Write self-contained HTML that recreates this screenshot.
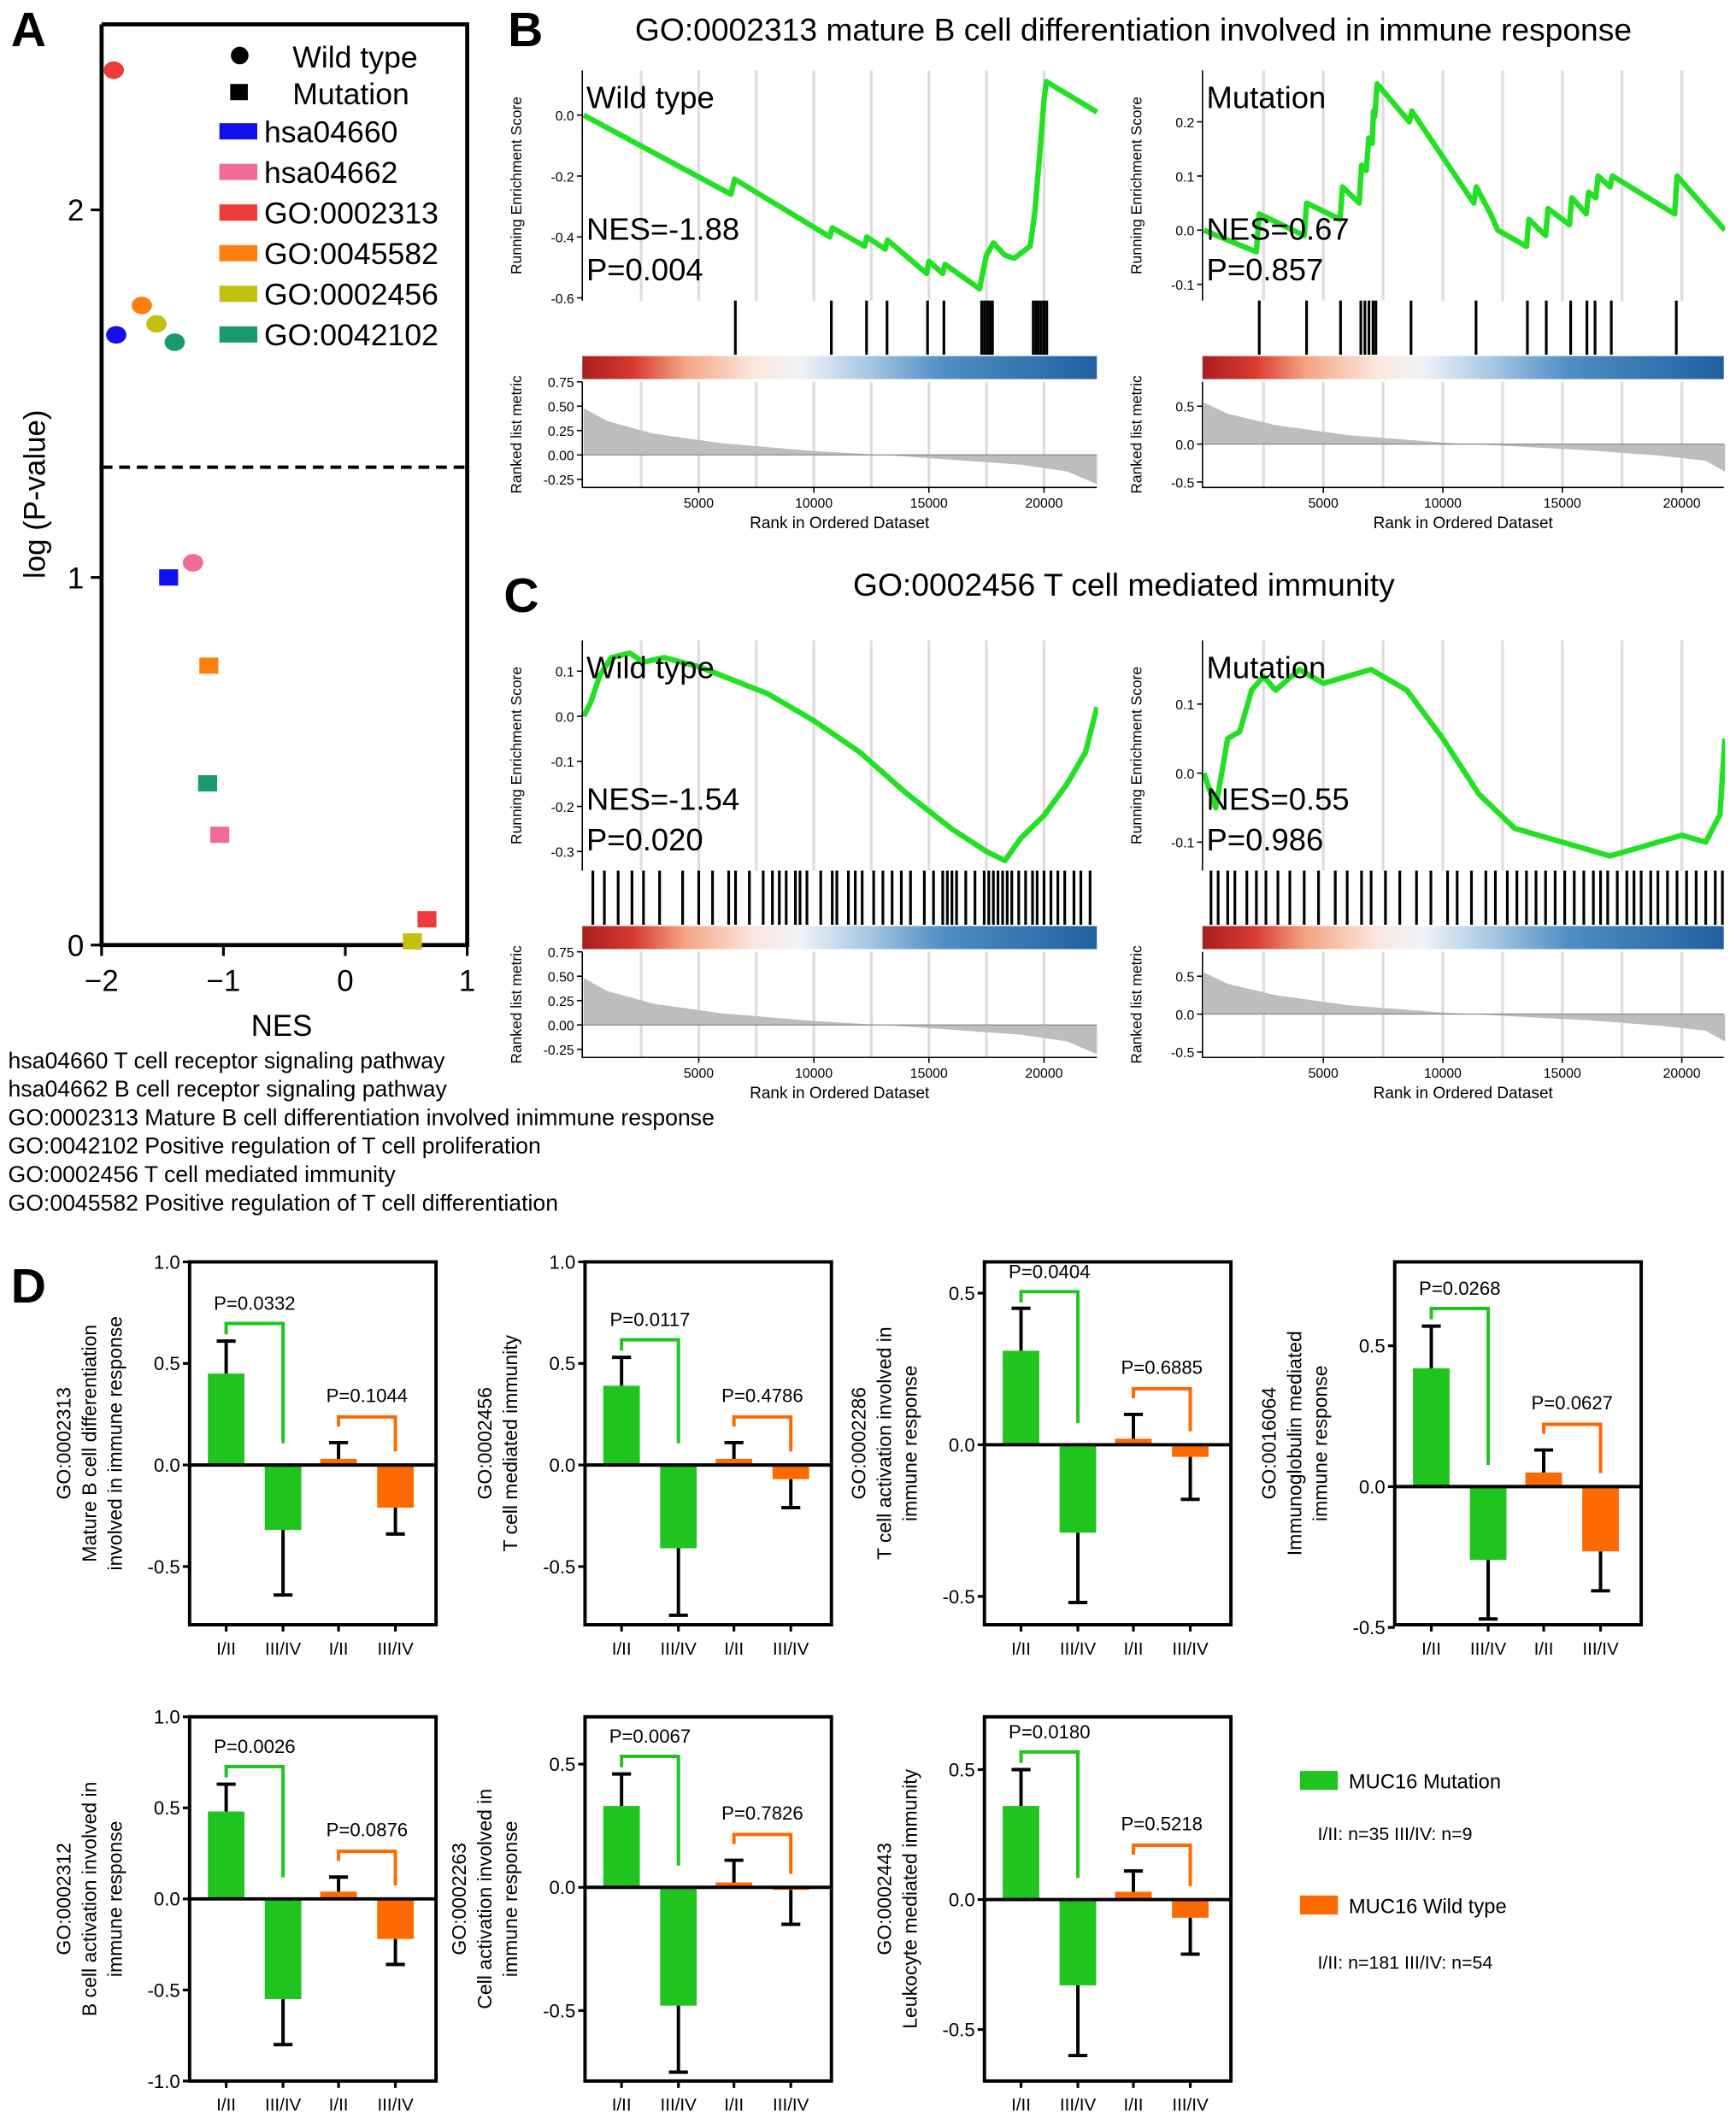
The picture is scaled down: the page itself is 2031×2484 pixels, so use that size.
<!DOCTYPE html>
<html><head><meta charset="utf-8"><style>
html,body{margin:0;padding:0;background:#fff}
svg{display:block;font-family:"Liberation Sans",Arial,sans-serif}
</style></head><body>
<svg id="fig" width="2031" height="2484" viewBox="0 0 1282 1568" xmlns="http://www.w3.org/2000/svg">
<defs>
<linearGradient id="rb" x1="0" x2="1" y1="0" y2="0">
<stop offset="0" stop-color="#a81e1e"/><stop offset="0.1" stop-color="#d83a2e"/><stop offset="0.2" stop-color="#f4a582"/><stop offset="0.33" stop-color="#fbe5dc"/><stop offset="0.42" stop-color="#f0f4f8"/><stop offset="0.55" stop-color="#a9c9e4"/><stop offset="0.7" stop-color="#4f8fc6"/><stop offset="1" stop-color="#1f5f9e"/>
</linearGradient>
<clipPath id="clipL"><rect x="420" y="0" width="391" height="1568"/></clipPath>
<clipPath id="clipR"><rect x="878" y="0" width="396" height="1568"/></clipPath>
</defs>
</svg>
<script>
var NS='http://www.w3.org/2000/svg';
var svg=document.getElementById('fig');
function mk(tag,attrs,parent){var e=document.createElementNS(NS,tag);for(var k in attrs)e.setAttribute(k,attrs[k]);(parent||svg).appendChild(e);return e;}
function tx(x,y,s,size,attrs,parent){var a={x:x,y:y,'font-size':size};for(var k in attrs)a[k]=attrs[k];var e=mk('text',a,parent);e.textContent=s;return e;}

// ---------------- Panel A data ----------------
var aNames=['hsa04660','hsa04662','GO:0002313','GO:0045582','GO:0002456','GO:0042102'];
var aColors=['#1010ee','#f06a9a','#ee3a3a','#ff7f0e','#c4c010','#1a9a6a'];
var aWildNES=[-1.88,-1.25,-1.9,-1.67,-1.55,-1.4];
var aWildLogP=[1.66,1.04,2.38,1.74,1.69,1.64];
var aMutNES=[-1.45,-1.03,0.67,-1.12,0.55,-1.13];
var aMutLogP=[1.0,0.3,0.07,0.76,0.01,0.44];
var aXTicks=[-2,-1,0,1];
var aYTicks=[0,1,2];

var ax=function(v){return 255+v*90;};
var ay=function(v){return 698-v*271.5;};
var gA=mk('g',{});


var t=tx(8,34,'A',36,{'font-weight':'bold'},gA);


var fr=mk('path',{d:'M75 18 V698 H345 V18 H75',fill:'none',stroke:'#000','stroke-width':3},gA);


aXTicks.forEach(function(v){mk('line',{x1:ax(v),x2:ax(v),y1:698,y2:706,stroke:'#000','stroke-width':2},gA);var l=tx(ax(v),732,String(v).replace('-','\u2212'),22,{'text-anchor':'middle'},gA);});
aYTicks.forEach(function(v){mk('line',{x1:67,x2:75,y1:ay(v),y2:ay(v),stroke:'#000','stroke-width':2},gA);var l=tx(62,ay(v)+8,String(v),22,{'text-anchor':'end'},gA);});
var dl=mk('line',{x1:75,x2:345,y1:ay(1.3),y2:ay(1.3),stroke:'#000','stroke-width':2.5,'stroke-dasharray':'8,5'},gA);


t=tx(208,765,'NES',22,{'text-anchor':'middle'},gA);


t=tx(0,0,'log (P-value)',22,{'text-anchor':'middle',transform:'translate(33,365) rotate(-90)'},gA);


for(var i=0;i<aNames.length;i++){
  var c=mk('ellipse',{cx:ax(aWildNES[i]),cy:ay(aWildLogP[i]),rx:7.5,ry:6.5,fill:aColors[i]},gA);
  
  
  var s=mk('rect',{x:ax(aMutNES[i])-7,y:ay(aMutLogP[i])-6,width:14,height:12,fill:aColors[i]},gA);
  
  
}
var lg=mk('g',{},gA);


mk('circle',{cx:177,cy:41,r:6.5,fill:'#000'},lg);
tx(216,50,'Wild type',22.5,{},lg);
mk('rect',{x:170,y:62,width:13,height:12,fill:'#000'},lg);
tx(216,77,'Mutation',22.5,{},lg);
[0,1,2,3,4,5].forEach(function(k,j){
  var y=97+j*30;
  var r=mk('rect',{x:162,y:y-6,width:28,height:12,fill:aColors[k]},lg);
  
  
  var l=tx(195,y+8,aNames[k],22.5,{},lg);
  
  
});
var notes=['hsa04660 T cell receptor signaling pathway','hsa04662 B cell receptor signaling pathway','GO:0002313 Mature B cell differentiation involved inimmune response','GO:0042102 Positive regulation of T cell proliferation','GO:0002456 T cell mediated immunity','GO:0045582 Positive regulation of T cell differentiation'];
notes.forEach(function(s,j){var l=tx(6,789+j*21,s,16.8,{},gA);});

// ---------------- GSEA data ----------------
var esB_wt=[[0,0],[6400,-0.26],[6550,-0.21],[10700,-0.40],[10800,-0.37],[12200,-0.43],[12300,-0.40],[13100,-0.44],[13200,-0.41],[14900,-0.52],[15000,-0.48],[15600,-0.52],[15700,-0.49],[17200,-0.57],[17300,-0.53],[17500,-0.46],[17800,-0.42],[18300,-0.46],[18700,-0.47],[19400,-0.43],[19600,-0.32],[19800,-0.14],[20000,0.05],[20100,0.11],[22300,0.01]];
var hitsB_wt=[6590,10760,12290,13180,14940,15650,17290,17410,17530,17650,17760,19530,19650,19760,19880,20000,20120];
var esB_mut=[[0,0],[2200,-0.04],[2320,0.03],[4200,-0.01],[4300,0.05],[5700,0.02],[5800,0.08],[6500,0.05],[6600,0.12],[6800,0.11],[6900,0.17],[7050,0.16],[7100,0.22],[7150,0.21],[7250,0.27],[8600,0.2],[8700,0.22],[11300,0.05],[11400,0.08],[12000,0.03],[12300,0.0],[13500,-0.03],[13600,0.02],[14300,-0.01],[14400,0.04],[15300,0.01],[15400,0.06],[16000,0.03],[16100,0.07],[16400,0.06],[16500,0.1],[17000,0.08],[17100,0.1],[19700,0.03],[19800,0.1],[21800,0.0]];
var hitsB_mut=[2320,4300,5720,6570,6740,6910,7080,7200,8670,11390,13540,14330,15350,16030,16370,17050,19770];
var esC_wt=[[0,0.0],[300,0.03],[700,0.09],[1200,0.13],[2000,0.14],[2600,0.12],[3500,0.13],[5000,0.11],[6000,0.09],[8000,0.05],[10000,-0.01],[12000,-0.08],[14000,-0.17],[16000,-0.25],[17500,-0.30],[18300,-0.32],[19000,-0.27],[20000,-0.22],[21000,-0.15],[21800,-0.08],[22300,0.02]];
var hitsC_wt=[400,900,1500,2100,2600,3300,4300,5000,5600,6300,6600,7200,7800,8200,8500,8800,9200,9400,9700,10300,10800,11000,11500,11800,12100,12600,13000,13400,13800,14200,14800,15200,15600,15800,16000,16200,16600,17000,17400,17600,17800,18000,18200,18400,18600,18900,19200,19500,19700,20000,20300,20600,20900,21300,21600,22000];
var esC_mut=[[0,0],[500,-0.05],[1000,0.05],[1500,0.06],[2000,0.12],[2500,0.14],[3000,0.12],[4000,0.15],[5000,0.13],[6000,0.14],[7000,0.15],[8500,0.12],[10000,0.05],[11500,-0.03],[13000,-0.08],[14000,-0.09],[15000,-0.1],[16000,-0.11],[17000,-0.12],[18000,-0.11],[19000,-0.1],[20000,-0.09],[21000,-0.1],[21600,-0.06],[21800,0.05]];
var hitsC_mut=[300,600,1000,1300,1800,2200,2600,3100,3600,4200,4800,5500,6000,6600,7000,7600,8200,8900,9500,10200,10600,11200,11800,12200,12700,13100,13500,13900,14300,14700,15100,15500,15900,16300,16600,16900,17300,17700,18000,18300,18700,19000,19400,19800,20200,20600,21000,21400,21700];
var metricRanks=[0,1000,3000,6000,10000,13000,16000,19000,21000,22300];
var metricWT=[0.48,0.35,0.22,0.12,0.04,0.0,-0.05,-0.1,-0.17,-0.3];
var metricMut=[0.55,0.4,0.25,0.12,0.02,-0.03,-0.08,-0.15,-0.22,-0.45];
var rankTicks=[5000,10000,15000,20000];

function gsea(cfg){
  var g=mk('g',{'clip-path':cfg.clip});
  
  
  var g2=mk('g',{});
  
  
  var X=function(r){return cfg.x0+r*cfg.kx;};
  var Y=function(v){return cfg.zero-v*cfg.ky;};
  var L=cfg.x0-1,R=cfg.x1,T=cfg.top;
  for(var r=2500;r<22000;r+=2500){mk('line',{x1:X(r),x2:X(r),y1:T,y2:T+170,stroke:'#ddd','stroke-width':2},g);mk('line',{x1:X(r),x2:X(r),y1:T+230,y2:T+308,stroke:'#ddd','stroke-width':2},g);}
  mk('line',{x1:L,x2:L,y1:T,y2:T+170,stroke:'#000','stroke-width':1},g2);
  cfg.esTicks.forEach(function(v){mk('line',{x1:L-4,x2:L,y1:Y(v),y2:Y(v),stroke:'#000'},g2);var l=tx(L-6,Y(v)+4,v.toFixed(1),10,{'text-anchor':'end'},g2);});
  var d=cfg.es.map(function(p,i){return (i?'L':'M')+X(p[0]).toFixed(1)+' '+Y(p[1]).toFixed(1);}).join(' ');
  var cu=mk('path',{d:d,fill:'none',stroke:'#22e022','stroke-width':4,'stroke-linejoin':'round'},g);
  
  
  cfg.hits.forEach(function(h){var hl=mk('line',{x1:X(h),x2:X(h),y1:T+170,y2:T+210,stroke:'#000','stroke-width':2},g);});
  var cb=mk('rect',{x:L,y:T+211,width:R-L,height:17,fill:'url(#rb)'},g);
  
  
  var MY=function(v){return cfg.mzero-v*cfg.mky;};
  var md='M'+X(0)+' '+MY(0);
  metricRanks.forEach(function(r,i){md+=' L'+X(r).toFixed(1)+' '+MY(cfg.metric[i]).toFixed(1);});
  md+=' L'+X(metricRanks[metricRanks.length-1])+' '+MY(0)+' Z';
  var ma=mk('path',{d:md,fill:'#bdbdbd',stroke:'none'},g);
  
  
  mk('line',{x1:L,x2:R,y1:MY(0),y2:MY(0),stroke:'#888','stroke-width':0.8},g);
  mk('path',{d:'M'+L+' '+(T+230)+' V'+(T+308)+' H'+R,fill:'none',stroke:'#000','stroke-width':1},g2);
  cfg.mTicks.forEach(function(v){mk('line',{x1:L-4,x2:L,y1:MY(v),y2:MY(v),stroke:'#000'},g2);var l=tx(L-6,MY(v)+4,cfg.mFmt(v),10,{'text-anchor':'end'},g2);});
  rankTicks.forEach(function(r){mk('line',{x1:X(r),x2:X(r),y1:T+308,y2:T+312,stroke:'#000'},g2);var l=tx(X(r),T+323,String(r),10,{'text-anchor':'middle'},g2);});
  var at=tx((L+R)/2,T+338,'Rank in Ordered Dataset',12,{'text-anchor':'middle'},g2);
  
  
  var yt=tx(0,0,'Running Enrichment Score',11,{'text-anchor':'middle',transform:'translate('+(L-45)+','+(T+85)+') rotate(-90)'},g2);
  
  
  var yt2=tx(0,0,'Ranked list metric',11,{'text-anchor':'middle',transform:'translate('+(L-45)+','+(T+269)+') rotate(-90)'},g2);
  
  
  var lb=tx(L+3,T+28,cfg.label,23,{},g2);
  
  
  var ne=tx(L+3,T+125,cfg.nes,23,{},g2);
  
  
  var pv=tx(L+3,T+155,cfg.p,23,{},g2);
  
  
}
var fmt2=function(v){return v.toFixed(2);};
var fmt1=function(v){return v.toFixed(1);};
gsea({name:'gsea-b-wild-type',clip:'url(#clipL)',x0:431,x1:810,kx:0.017,top:52,zero:85,ky:225,esTicks:[0,-0.2,-0.4,-0.6],es:esB_wt,hits:hitsB_wt,metric:metricWT,mzero:336,mky:72,mTicks:[0.75,0.5,0.25,0,-0.25],mFmt:fmt2,label:'Wild type',nes:'NES=-1.88',p:'P=0.004'});
gsea({name:'gsea-b-mutation',clip:'url(#clipR)',x0:889,x1:1273,kx:0.01765,top:52,zero:170,ky:400,esTicks:[0.2,0.1,0,-0.1],es:esB_mut,hits:hitsB_mut,metric:metricMut,mzero:328,mky:56,mTicks:[0.5,0,-0.5],mFmt:fmt1,label:'Mutation',nes:'NES=0.67',p:'P=0.857'});
gsea({name:'gsea-c-wild-type',clip:'url(#clipL)',x0:431,x1:810,kx:0.017,top:473,zero:529,ky:333,esTicks:[0.1,0,-0.1,-0.2,-0.3],es:esC_wt,hits:hitsC_wt,metric:metricWT,mzero:757,mky:72,mTicks:[0.75,0.5,0.25,0,-0.25],mFmt:fmt2,label:'Wild type',nes:'NES=-1.54',p:'P=0.020'});
gsea({name:'gsea-c-mutation',clip:'url(#clipR)',x0:889,x1:1273,kx:0.01765,top:473,zero:571,ky:510,esTicks:[0.1,0,-0.1],es:esC_mut,hits:hitsC_mut,metric:metricMut,mzero:749,mky:56,mTicks:[0.5,0,-0.5],mFmt:fmt1,label:'Mutation',nes:'NES=0.55',p:'P=0.986'});
t=tx(375,34,'B',36,{'font-weight':'bold'});


t=tx(837,30,'GO:0002313 mature B cell differentiation involved in immune response',23.5,{'text-anchor':'middle'});


t=tx(372,452,'C',36,{'font-weight':'bold'});


t=tx(830,440,'GO:0002456 T cell mediated immunity',23.5,{'text-anchor':'middle'});



// ---------------- Panel D data ----------------
var dCats=['I/II','III/IV','I/II','III/IV'];
var dMeans1=[0.45,-0.32,0.03,-0.21]; var dErr1=[0.16,0.32,0.08,0.13];
var dMeans2=[0.39,-0.41,0.03,-0.07]; var dErr2=[0.14,0.33,0.08,0.14];
var dMeans3=[0.31,-0.29,0.02,-0.04]; var dErr3=[0.14,0.23,0.08,0.14];
var dMeans4=[0.42,-0.26,0.05,-0.23]; var dErr4=[0.15,0.21,0.08,0.14];
var dMeans5=[0.48,-0.55,0.04,-0.22]; var dErr5=[0.15,0.25,0.08,0.14];
var dMeans6=[0.33,-0.48,0.02,-0.01]; var dErr6=[0.13,0.27,0.09,0.14];
var dMeans7=[0.36,-0.33,0.03,-0.07]; var dErr7=[0.14,0.27,0.08,0.14];
var dPvals=[['P=0.0332','P=0.1044'],['P=0.0117','P=0.4786'],['P=0.0404','P=0.6885'],['P=0.0268','P=0.0627'],['P=0.0026','P=0.0876'],['P=0.0067','P=0.7826'],['P=0.0180','P=0.5218']];
var dTicksA=[1.0,0.5,0.0,-0.5];
var dTicksB=[0.5,0.0,-0.5];
var dTicksC=[1.0,0.5,0.0,-0.5,-1.0];

var GREEN='#1fc41f',ORANGE='#ff6a00';
function barChart(cfg){
  var g=mk('g',{});
  
  
  var W=182,H=cfg.h;
  var Y=function(v){return cfg.y+(cfg.topVal-v)*cfg.k;};
  var off=[27,69,110,152];
  var cols=[GREEN,GREEN,ORANGE,ORANGE];
  var X=function(i){return cfg.x+off[i];};
  for(var i=0;i<4;i++){
    var v=cfg.means[i],e=cfg.errs[i];
    var y0=Y(0),y1=Y(v);
    var b=mk('rect',{x:X(i)-13.5,y:Math.min(y0,y1),width:27,height:Math.abs(y1-y0),fill:cols[i]},g);
    
    
    var ye=Y(v+(v>=0?e:-e));
    var eb=mk('path',{d:'M'+X(i)+' '+y1+' V'+ye+' M'+(X(i)-7)+' '+ye+' H'+(X(i)+7),stroke:'#000','stroke-width':2.5,fill:'none'},g);
    
    
  }
  var fr=mk('rect',{x:cfg.x,y:cfg.y,width:W,height:H,fill:'none',stroke:'#000','stroke-width':2.5},g);
  
  
  mk('line',{x1:cfg.x,x2:cfg.x+W,y1:Y(0),y2:Y(0),stroke:'#000','stroke-width':2.5},g);
  cfg.ticks.forEach(function(v){mk('line',{x1:cfg.x-5,x2:cfg.x,y1:Y(v),y2:Y(v),stroke:'#000','stroke-width':2},g);var l=tx(cfg.x-7,Y(v)+5,v.toFixed(1),14,{'text-anchor':'end'},g);});
  for(var i=0;i<4;i++){mk('line',{x1:X(i),x2:X(i),y1:cfg.y+H,y2:cfg.y+H+5,stroke:'#000','stroke-width':2},g);var l=tx(X(i),cfg.y+H+22,dCats[i],13,{'text-anchor':'middle'},g);}
  var gTop=Math.max(Y(cfg.means[0]+cfg.errs[0])-13,cfg.y+22);
  var br=mk('path',{d:'M'+X(0)+' '+(gTop+8)+' V'+gTop+' H'+X(1)+' V'+(Y(0)-16),stroke:GREEN,'stroke-width':2.5,fill:'none'},g);
  
  
  var pl=tx((X(0)+X(1))/2,gTop-10,cfg.p[0],14,{'text-anchor':'middle'},g);
  
  
  var oTop=Y(cfg.means[2]+cfg.errs[2])-19;
  var ob=mk('path',{d:'M'+X(2)+' '+(oTop+7)+' V'+oTop+' H'+X(3)+' V'+(Y(0)-10),stroke:ORANGE,'stroke-width':2.5,fill:'none'},g);
  
  
  var pl2=tx((X(2)+X(3))/2,oTop-11,cfg.p[1],14,{'text-anchor':'middle'},g);
  
  
  var n=cfg.title.length;
  cfg.title.forEach(function(s,j){var xx=cfg.x-50-(n-1-j)*19;var l=tx(0,0,s,14.5,{'text-anchor':'middle',transform:'translate('+xx+','+(cfg.y+H/2)+') rotate(-90)'},g);});
}
barChart({name:'bar-chart-go0002313',x:140,y:932,h:268,topVal:1.0,k:150,ticks:dTicksA,means:dMeans1,errs:dErr1,p:dPvals[0],title:['GO:0002313','Mature B cell differentiation','involved in immune response']});
barChart({name:'bar-chart-go0002456',x:432,y:932,h:268,topVal:1.0,k:150,ticks:dTicksA,means:dMeans2,errs:dErr2,p:dPvals[1],title:['GO:0002456','T cell mediated immunity']});
barChart({name:'bar-chart-go0002286',x:727,y:932,h:268,topVal:0.603,k:224,ticks:dTicksB,means:dMeans3,errs:dErr3,p:dPvals[2],title:['GO:0002286','T cell activation involved in','immune response']});
barChart({name:'bar-chart-go0016064',x:1030,y:932,h:268,topVal:0.798,k:208,ticks:dTicksB,means:dMeans4,errs:dErr4,p:dPvals[3],title:['GO:0016064','Immunoglobulin mediated','immune response']});
barChart({name:'bar-chart-go0002312',x:140,y:1268,h:269,topVal:1.0,k:134.5,ticks:dTicksC,means:dMeans5,errs:dErr5,p:dPvals[4],title:['GO:0002312','B cell activation involved in','immune response']});
barChart({name:'bar-chart-go0002263',x:432,y:1268,h:269,topVal:0.692,k:182,ticks:dTicksB,means:dMeans6,errs:dErr6,p:dPvals[5],title:['GO:0002263','Cell activation involved in','immune response']});
barChart({name:'bar-chart-go0002443',x:727,y:1268,h:269,topVal:0.703,k:192,ticks:dTicksB,means:dMeans7,errs:dErr7,p:dPvals[6],title:['GO:0002443','Leukocyte mediated immunity']});
t=tx(8,962,'D',36,{'font-weight':'bold'});


var dl2=mk('g',{});


var sw=mk('rect',{x:960,y:1308,width:28,height:14,fill:GREEN},dl2);


t=tx(996,1321,'MUC16 Mutation',15,{},dl2);


tx(973,1359,'I/II: n=35 III/IV: n=9',13.5,{},dl2);
sw=mk('rect',{x:960,y:1400,width:28,height:14,fill:ORANGE},dl2);


t=tx(996,1413,'MUC16 Wild type',15,{},dl2);


tx(973,1454,'I/II: n=181 III/IV: n=54',13.5,{},dl2);
</script>
</body></html>
